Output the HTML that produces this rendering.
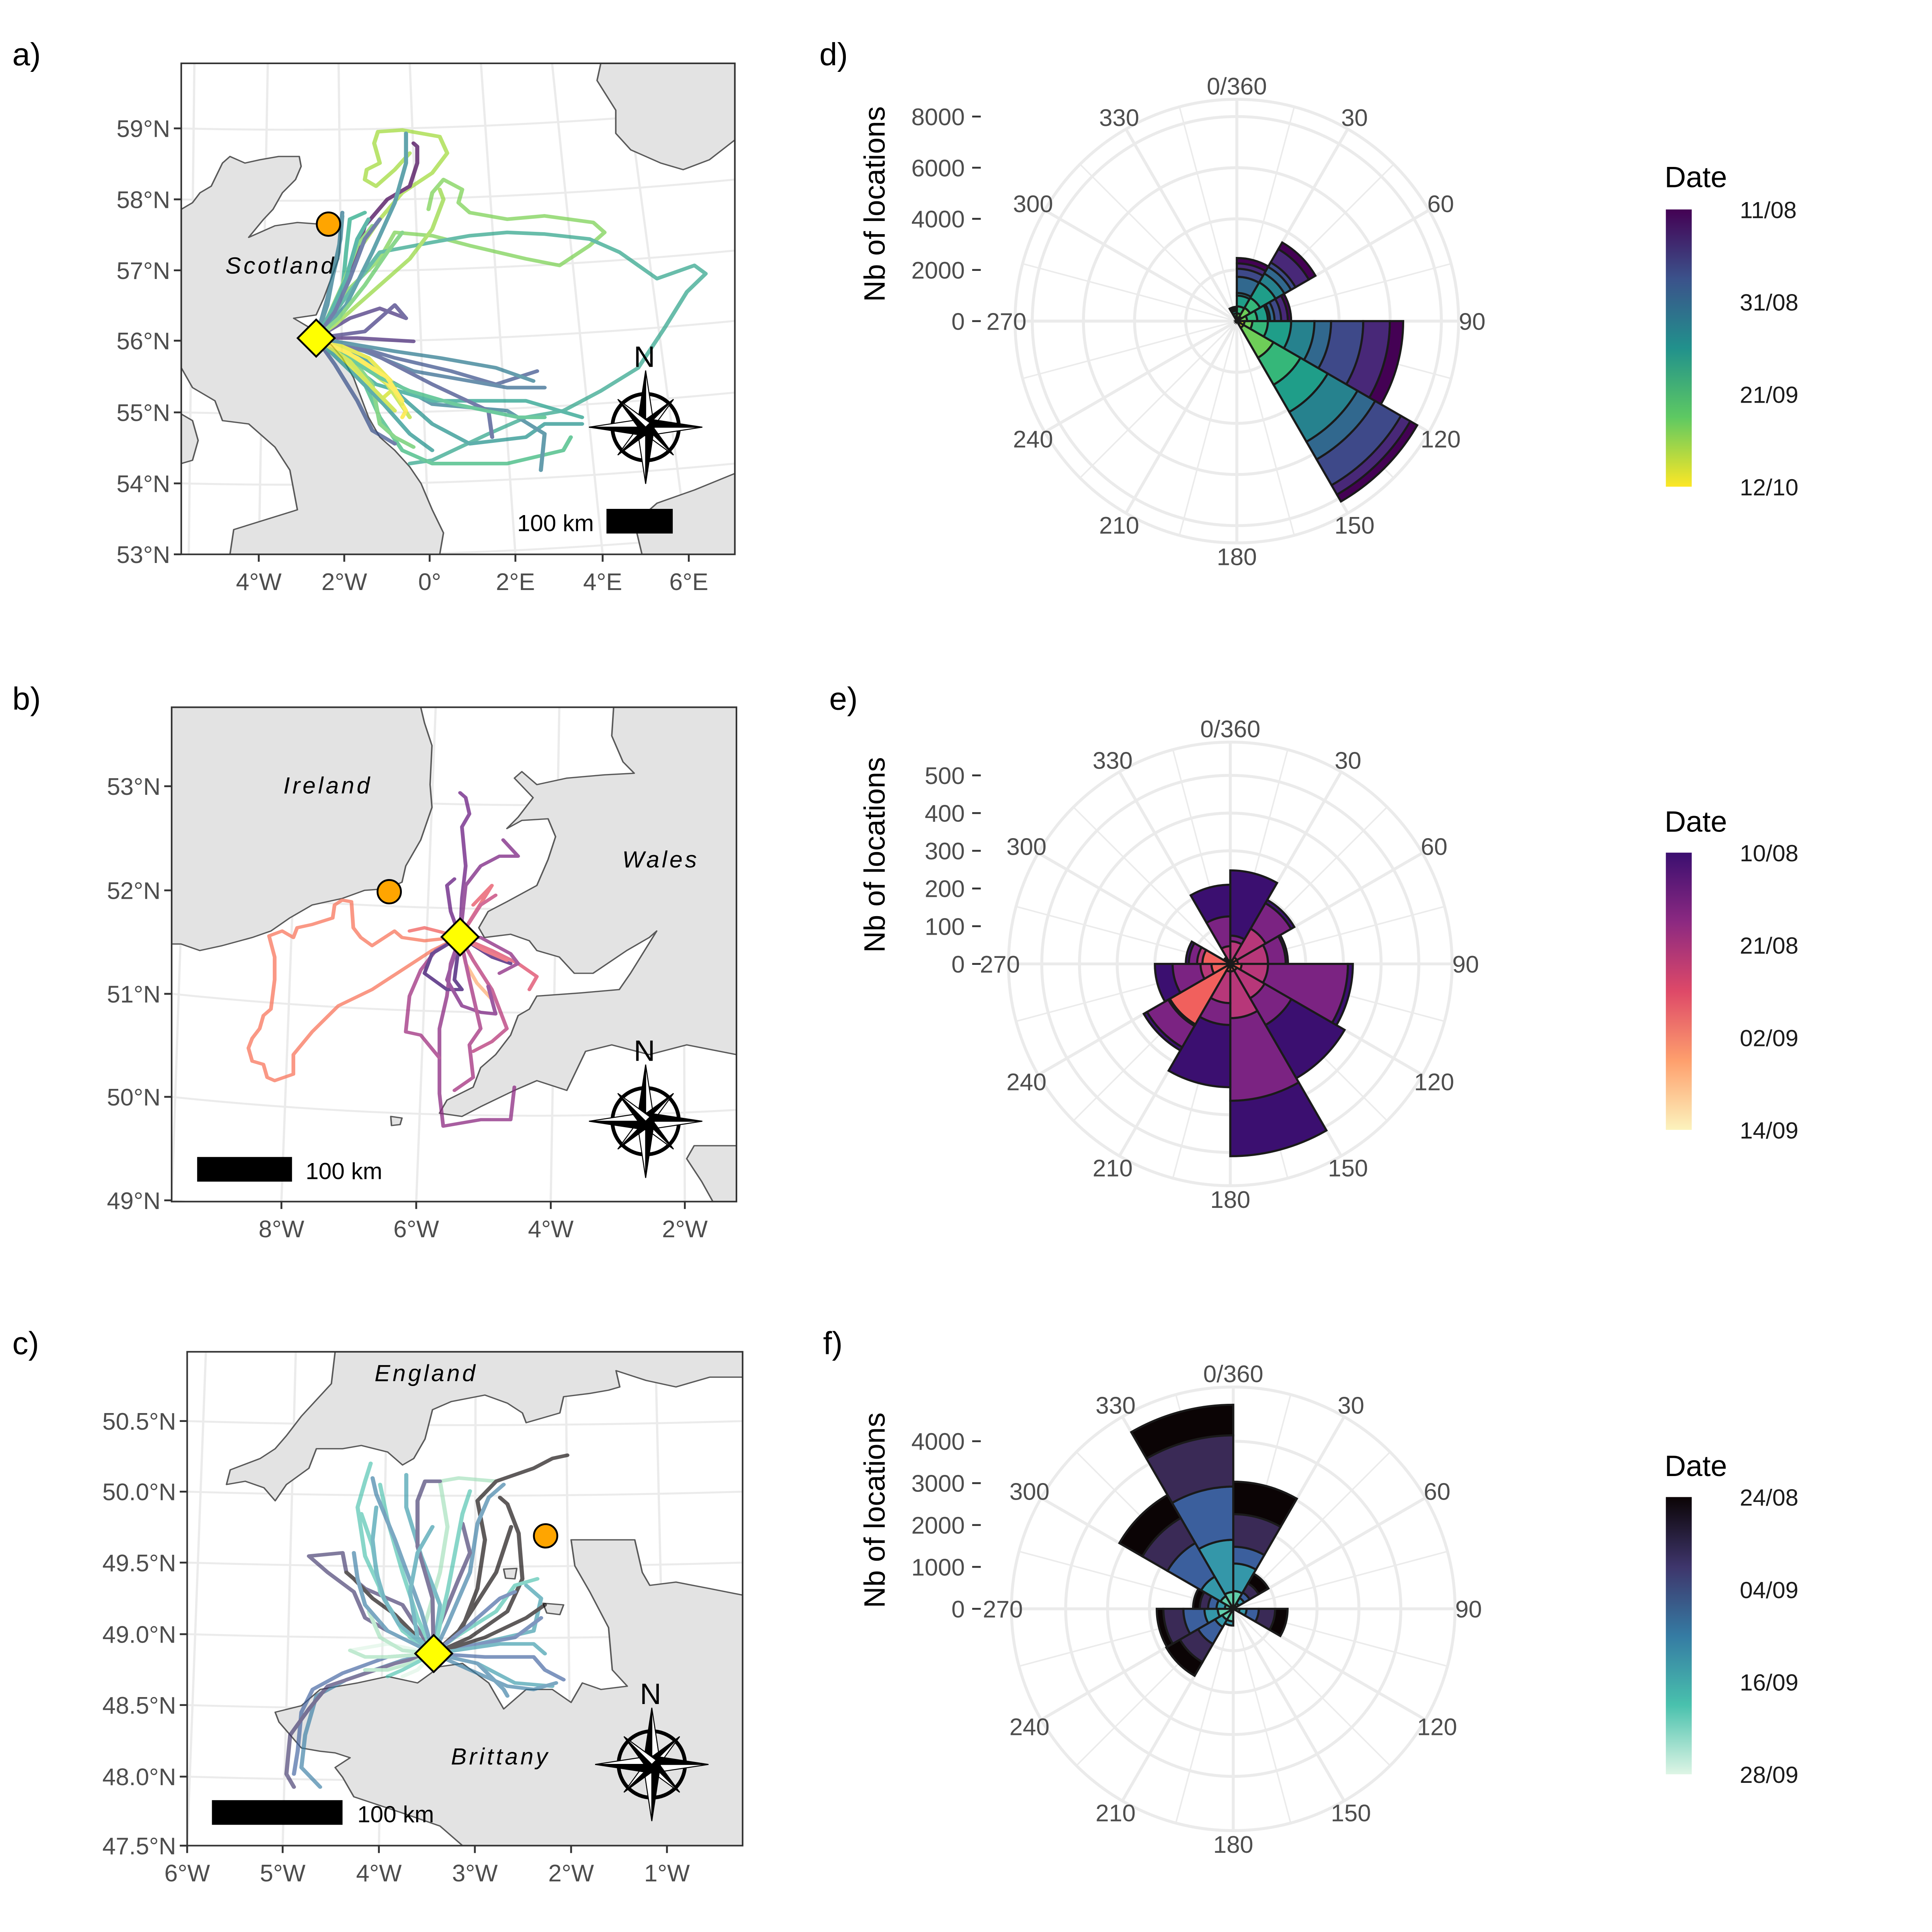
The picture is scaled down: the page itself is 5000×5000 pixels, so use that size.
<!DOCTYPE html>
<html><head><meta charset="utf-8">
<style>
html,body{margin:0;padding:0;background:#fff;}
svg{display:block;}
text{font-family:"Liberation Sans",Arial,sans-serif;}
.ax{fill:#4d4d4d;font-size:19.5px;}
.pl{fill:#000;font-size:26px;}
.reg{fill:#000;font-size:19px;font-style:italic;letter-spacing:2px;}
</style></head>
<body>
<svg id="fig" xmlns="http://www.w3.org/2000/svg" width="5000" height="5000" viewBox="0 0 1568 1568" preserveAspectRatio="none">
<defs>
<clipPath id="clipA"><rect x="30" y="28" width="1478" height="1487"/></clipPath>
<clipPath id="clipB"><rect x="25" y="12" width="1508" height="1520"/></clipPath>
<clipPath id="clipC"><rect x="25" y="22" width="1483" height="1518"/></clipPath>
<linearGradient id="gradD" x1="0" y1="0" x2="0" y2="1"><stop offset="0" stop-color="#440154"/><stop offset="0.25" stop-color="#3b528b"/><stop offset="0.5" stop-color="#21918c"/><stop offset="0.75" stop-color="#5ec962"/><stop offset="1" stop-color="#fde725"/></linearGradient>
<linearGradient id="gradE" x1="0" y1="0" x2="0" y2="1"><stop offset="0" stop-color="#3b0f70"/><stop offset="0.25" stop-color="#8c2981"/><stop offset="0.5" stop-color="#de4968"/><stop offset="0.75" stop-color="#fe9f6d"/><stop offset="1" stop-color="#fcf3bd"/></linearGradient>
<linearGradient id="gradF" x1="0" y1="0" x2="0" y2="1"><stop offset="0" stop-color="#0b0405"/><stop offset="0.25" stop-color="#3e356b"/><stop offset="0.5" stop-color="#357ba3"/><stop offset="0.75" stop-color="#49c1ad"/><stop offset="1" stop-color="#def5e5"/></linearGradient>
</defs>

<text class="pl" x="10" y="53">a)</text>
<text class="pl" x="10" y="576">b)</text>
<text class="pl" x="10" y="1099">c)</text>
<text class="pl" x="665" y="53">d)</text>
<text class="pl" x="673" y="576">e)</text>
<text class="pl" x="668" y="1099">f)</text>

<!-- MAP A -->
<g id="mapA">
 <g transform="translate(138,43.9) scale(0.304,0.268)">
  <g clip-path="url(#clipA)">
   <rect x="30" y="28" width="1478" height="1487" fill="#fff"/>
   <g id="gridA" fill="none" stroke="#ebebeb" stroke-width="6"></g>
   <g fill="#e3e3e3" stroke="#595959" stroke-width="4" stroke-linejoin="round">
    <path d="M30,470 L60,450 L80,420 L110,400 L140,330 L160,310 L200,330 L240,320 L290,310 L345,310 L350,340 L335,380 L300,420 L275,470 L250,500 L210,555 L280,520 L340,510 L400,515 L455,520 L455,560 L450,620 L430,680 L410,740 L390,790 L330,800 L375,830 L400,870 L430,880 L460,920 L490,980 L510,1040 L530,1100 L560,1160 L600,1200 L640,1250 L670,1300 L700,1380 L730,1450 L720,1515 L160,1515 L170,1440 L340,1380 L320,1260 L280,1190 L210,1120 L140,1110 L120,1050 L60,1010 L30,950 Z"/>
    <path d="M30,1090 L60,1110 L75,1170 L60,1230 L30,1240 Z"/>
    <path d="M1150,28 L1140,80 L1190,170 L1190,240 L1230,290 L1310,330 L1370,350 L1440,320 L1508,260 L1508,28 Z"/>
    <path d="M1508,1270 L1400,1320 L1300,1360 L1240,1420 L1260,1515 L1508,1515 Z"/>
   </g>
   <g id="tracksA" fill="none" stroke-width="11" stroke-linejoin="round" stroke-linecap="round" opacity="0.72"></g>
  </g>
 </g>
 <rect x="147.1" y="51.4" width="449.3" height="398.5" fill="none" stroke="#333" stroke-width="1.3"/>
 <text class="reg" x="183" y="222">Scotland</text>
 <circle cx="266.6" cy="181.9" r="9.5" fill="#ffa500" stroke="#000" stroke-width="1.5"/>
 <path d="M256.6,259.4 L271.6,274.4 L256.6,289.4 L241.6,274.4 Z" fill="#ffff00" stroke="#000" stroke-width="1.5"/>
 <rect x="492.2" y="413" width="53.8" height="20" fill="#000"/>
 <text x="482" y="431" text-anchor="end" font-size="19" fill="#000">100 km</text>
 <g transform="translate(524,346.7)" class="compassHolder"></g>
 <g id="axesA"></g>
</g>

<!-- MAP B -->
<g id="mapB">
 <g transform="translate(131.7,570.8) scale(0.304,0.264)">
  <g clip-path="url(#clipB)">
   <rect x="25" y="12" width="1508" height="1520" fill="#fff"/>
   <g id="gridB" fill="none" stroke="#ebebeb" stroke-width="6"></g>
   <g fill="#e3e3e3" stroke="#595959" stroke-width="4" stroke-linejoin="round">
    <path d="M25,12 L690,12 L700,60 L720,130 L715,250 L720,320 L690,420 L650,500 L640,550 L600,570 L540,575 L480,600 L400,620 L340,660 L290,700 L240,720 L160,745 L100,760 L50,740 L25,740 Z"/>
    <path d="M1205,12 L1200,100 L1230,180 L1260,215 L1180,220 L1080,230 L1000,250 L960,210 L940,230 L990,290 L950,350 L920,385 L960,360 L1030,355 L1050,410 L1030,480 L1000,560 L920,610 L870,640 L845,690 L860,720 L930,710 L980,730 L1000,760 L1060,780 L1100,830 L1150,830 L1240,760 L1300,720 L1320,700 L1250,830 L1220,880 L1120,890 L1000,900 L980,940 L950,960 L930,1020 L890,1080 L850,1120 L830,1180 L760,1220 L740,1260 L800,1270 L850,1240 L940,1190 L1000,1160 L1080,1190 L1130,1070 L1200,1050 L1300,1080 L1400,1050 L1533,1080 L1533,12 Z"/>
    <path d="M1533,1360 L1420,1360 L1400,1400 L1440,1470 L1470,1532 L1533,1532 Z"/>
    <path d="M610,1270 L640,1275 L635,1295 L612,1298 Z"/>
   </g>
   <g id="tracksB" fill="none" stroke-width="10" stroke-linejoin="round" stroke-linecap="round" opacity="0.75"></g>
  </g>
 </g>
 <rect x="139.3" y="574" width="458.4" height="401.2" fill="none" stroke="#333" stroke-width="1.3"/>
 <text class="reg" x="230" y="644">Ireland</text>
 <text class="reg" x="505" y="704">Wales</text>
 <circle cx="315.9" cy="723.7" r="9.5" fill="#ffa500" stroke="#000" stroke-width="1.5"/>
 <path d="M373.4,745.4 L388.4,760.4 L373.4,775.4 L358.4,760.4 Z" fill="#ffff00" stroke="#000" stroke-width="1.5"/>
 <rect x="160" y="939" width="77" height="20" fill="#000"/>
 <text x="248" y="957" font-size="19" fill="#000">100 km</text>
 <g transform="translate(524,910)" class="compassHolder"></g>
 <g id="axesB"></g>
</g>

<!-- MAP C -->
<g id="mapC">
 <g transform="translate(144.3,1091.3) scale(0.304,0.264)">
  <g clip-path="url(#clipC)">
   <rect x="25" y="22" width="1483" height="1518" fill="#fff"/>
   <g id="gridC" fill="none" stroke="#ebebeb" stroke-width="6"></g>
   <g fill="#e3e3e3" stroke="#595959" stroke-width="4" stroke-linejoin="round">
    <path d="M420,22 L410,120 L330,220 L290,280 L260,320 L220,350 L140,385 L130,430 L180,420 L230,440 L260,480 L290,430 L350,380 L370,320 L440,320 L490,310 L560,330 L600,370 L630,350 L660,290 L680,200 L730,175 L820,155 L880,180 L920,210 L930,240 L1020,210 L1030,160 L1100,150 L1150,140 L1180,130 L1170,80 L1250,110 L1330,130 L1420,100 L1508,100 L1508,22 Z"/>
    <path d="M260,1130 L330,1110 L380,1060 L480,1040 L560,1020 L640,1040 L700,990 L760,980 L830,1040 L870,1120 L930,1060 L1000,1060 L1050,1100 L1080,1040 L1130,1060 L1200,1050 L1160,1000 L1150,870 L1100,760 L1060,680 L1050,600 L1090,600 L1150,600 L1220,600 L1240,700 L1260,740 L1330,730 L1420,750 L1508,770 L1508,1540 L760,1540 L700,1480 L600,1440 L470,1390 L440,1330 L420,1300 L460,1270 L420,1255 L380,1250 L330,1240 L300,1200 L270,1160 Z"/>
    <path d="M870,690 L905,688 L900,720 L875,718 Z"/>
    <path d="M975,795 L1030,800 L1020,830 L985,825 Z"/>
   </g>
   <g id="tracksC" fill="none" stroke-width="11" stroke-linejoin="round" stroke-linecap="round" opacity="0.65"></g>
  </g>
 </g>
 <rect x="151.9" y="1097.1" width="450.8" height="400.8" fill="none" stroke="#333" stroke-width="1.3"/>
 <text class="reg" x="304" y="1121">England</text>
 <text class="reg" x="366" y="1432">Brittany</text>
 <circle cx="442.8" cy="1246.5" r="9.5" fill="#ffa500" stroke="#000" stroke-width="1.5"/>
 <path d="M352,1327 L367,1342 L352,1357 L337,1342 Z" fill="#ffff00" stroke="#000" stroke-width="1.5"/>
 <rect x="172" y="1461" width="106" height="20" fill="#000"/>
 <text x="290" y="1479" font-size="19" fill="#000">100 km</text>
 <g transform="translate(529,1432)" class="compassHolder"></g>
 <g id="axesC"></g>
</g>

<g id="roseD"></g>
<g id="roseE"></g>
<g id="roseF"></g>

<g>
 <text x="1351" y="152" font-size="24" fill="#000">Date</text>
 <rect x="1352" y="170" width="21" height="225" fill="url(#gradD)"/>
 <text x="1412" y="177" font-size="19" fill="#1a1a1a">11/08</text>
 <text x="1412" y="252" font-size="19" fill="#1a1a1a">31/08</text>
 <text x="1412" y="327" font-size="19" fill="#1a1a1a">21/09</text>
 <text x="1412" y="402" font-size="19" fill="#1a1a1a">12/10</text>
</g>
<g>
 <text x="1351" y="675" font-size="24" fill="#000">Date</text>
 <rect x="1352" y="692" width="21" height="225" fill="url(#gradE)"/>
 <text x="1412" y="699" font-size="19" fill="#1a1a1a">10/08</text>
 <text x="1412" y="774" font-size="19" fill="#1a1a1a">21/08</text>
 <text x="1412" y="849" font-size="19" fill="#1a1a1a">02/09</text>
 <text x="1412" y="924" font-size="19" fill="#1a1a1a">14/09</text>
</g>
<g>
 <text x="1351" y="1198" font-size="24" fill="#000">Date</text>
 <rect x="1352" y="1215" width="21" height="225" fill="url(#gradF)"/>
 <text x="1412" y="1222" font-size="19" fill="#1a1a1a">24/08</text>
 <text x="1412" y="1297" font-size="19" fill="#1a1a1a">04/09</text>
 <text x="1412" y="1372" font-size="19" fill="#1a1a1a">16/09</text>
 <text x="1412" y="1447" font-size="19" fill="#1a1a1a">28/09</text>
</g>
</svg>

<script>
var NS = "http://www.w3.org/2000/svg";
function mk(tag, attrs, parent){ var e=document.createElementNS(NS,tag); for(var k in attrs) e.setAttribute(k,attrs[k]); if(parent) parent.appendChild(e); return e; }

/* ---------- ROSE CHART DATA ---------- */
var dBinStart = [0, 30, 60, 90, 120, 330];
var dColors = ['#c8e020','#6ece58','#35b779','#1f9e89','#26828e','#31688e','#3e4989','#482878','#440154'];
var dCounts = [
  [100,200,277,420,103,632,315,210,210],
  [200,400,450,700,400,300,200,600,300],
  [100,300,400,414,86,175,260,260,130],
  [300,307,607,911,911,651,1258,1041,520],
  [300,1353,1222,1230,1344,798,1165,423,310],
  [100,100,100,100,50,50,30,20,10]
];
var dTicks = [0,2000,4000,6000,8000];
var eBinStart = [0,30,60,90,120,150,180,210,240,270,300,330];
var eColors = ['#feb078','#f1605d','#b73779','#7b2382','#3b0f70'];
var eCounts = [
  [0,10,50,15,173],
  [0,20,88,78,10],
  [0,20,80,47,6],
  [0,30,70,212,13],
  [0,20,85,82,163],
  [0,20,124,219,147],
  [0,20,84,58,165],
  [0,185,5,65,10],
  [0,50,29,74,47],
  [0,74,14,22,8],
  [0,5,5,5,5],
  [0,10,37,79,84]
];
var eTicks = [0,100,200,300,400,500];
var fBinStart = [0,30,90,180,210,240,270,300,330];
var fColors = ['#60ceac','#3497a9','#3b5f9d','#3a2a56','#0b0405'];
var fCounts = [
  [424,658,400,777,776],
  [150,150,150,250,270],
  [150,168,291,391,297],
  [300,100,0,0,0],
  [300,200,470,500,376],
  [370,318,503,477,158],
  [200,200,200,200,160],
  [350,535,927,692,634],
  [400,1247,1271,1223,729]
];
var fTicks = [0,1000,2000,3000,4000];
var angleLabels = ['0/360','30','60','90','120','150','180','210','240','270','300','330'];

function drawRose(gid, cx, cy, k, binStart, counts, colors, ticks, key){
  var g = document.getElementById(gid);
  var R = 180;
  function P(r,a){ var t=a*Math.PI/180; return [cx + r*Math.sin(t), cy - r*Math.cos(t)]; }
  var grid = mk('g',{fill:'none',stroke:'#ebebeb'},g);
  for(var a=0;a<360;a+=15){
    var p=P(R,a);
    var ln = mk('line',{x1:cx,y1:cy,x2:p[0],y2:p[1],'stroke-width':(a%30===0?2.4:1.2)},grid);
    
    
  }
  for(var i=1;i<ticks.length;i++){
    var c = mk('circle',{cx:cx,cy:cy,r:ticks[i]*k,'stroke-width':2.4},grid);
    
    
  }
  var oc = mk('circle',{cx:cx,cy:cy,r:R,'stroke-width':2.4},grid);
  
  
  var wg = mk('g',{stroke:'#1a1a1a','stroke-width':1.7,'stroke-linejoin':'miter'},g);
  for(var b=0;b<binStart.length;b++){
    var a0=binStart[b], a1=binStart[b]+30, cum=0;
    for(var s=0;s<counts[b].length;s++){
      var v=counts[b][s]; if(v<=0) continue;
      var r0=cum*k, r1=(cum+v)*k; cum+=v;
      var p0=P(r0,a0),p1=P(r1,a0),p2=P(r1,a1),p3=P(r0,a1);
      var d='M'+p0[0]+','+p0[1]+' L'+p1[0]+','+p1[1]+' A'+r1+','+r1+' 0 0 1 '+p2[0]+','+p2[1]+' L'+p3[0]+','+p3[1];
      if(r0>0) d+=' A'+r0+','+r0+' 0 0 0 '+p0[0]+','+p0[1];
      d+=' Z';
      var w = mk('path',{d:d,fill:colors[s]},wg);
      
      
    }
  }
  for(var j=0;j<12;j++){
    var q=P(191,j*30);
    var xoff = (j===9)? 4 : 0;
    var t = mk('text',{x:q[0]+xoff,y:q[1]+7,'text-anchor':'middle','class':'ax'},g);
    t.textContent = angleLabels[j];
    
    
  }
  for(var i=0;i<ticks.length;i++){
    var y = cy - ticks[i]*k;
    mk('line',{x1:789,y1:y,x2:796,y2:y,stroke:'#333','stroke-width':1.5},g);
    var tl = mk('text',{x:783,y:y+7,'text-anchor':'end','class':'ax'},g);
    tl.textContent = ticks[i];
    
    
  }
  var yt = cy - ticks[ticks.length-1]*k/2 - 12;
  var title = mk('text',{x:0,y:0,transform:'translate(718,'+yt+') rotate(-90)','text-anchor':'middle','font-size':24,fill:'#000'},g);
  title.textContent = 'Nb of locations';
  
  
}
drawRose('roseD',1003.8,260.6,0.02075,dBinStart,dCounts,dColors,dTicks,'d');
drawRose('roseE',998.5,782.3,0.306,eBinStart,eCounts,eColors,eTicks,'e');
drawRose('roseF',1000.9,1305.7,0.034,fBinStart,fCounts,fColors,fTicks,'f');

/* ---------- MAP AXES ---------- */
var aLatLabels = ['59°N','58°N','57°N','56°N','55°N','54°N','53°N'];
var aLatY = [104.2,161.8,219.4,276.5,334.7,392.3,449.9];
var aLonLabels = ['4°W','2°W','0°','2°E','4°E','6°E'];
var aLonX = [210,279.4,348.7,418.3,489.1,559];
var bLatLabels = ['53°N','52°N','51°N','50°N','49°N'];
var bLatY = [638.1,722.6,806.6,890.2,974.2];
var bLonLabels = ['8°W','6°W','4°W','2°W'];
var bLonX = [228.4,337.8,447,555.8];
var cLatLabels = ['50.5°N','50.0°N','49.5°N','49.0°N','48.5°N','48.0°N','47.5°N'];
var cLatY = [1153.3,1210.6,1268.2,1326.3,1383.8,1441.9,1497.9];
var cLonLabels = ['6°W','5°W','4°W','3°W','2°W','1°W'];
var cLonX = [151.9,229.4,307.5,385.4,463.5,541.3];
function drawAxes(gid, left, bottom, latL, latY, lonL, lonX, key){
  var g=document.getElementById(gid);
  for(var i=0;i<latL.length;i++){
    mk('line',{x1:left-6,y1:latY[i],x2:left,y2:latY[i],stroke:'#333','stroke-width':1.5},g);
    var t=mk('text',{x:left-9,y:latY[i]+7,'text-anchor':'end','class':'ax'},g);
    t.textContent=latL[i];
    
    
  }
  for(var i=0;i<lonL.length;i++){
    mk('line',{x1:lonX[i],y1:bottom,x2:lonX[i],y2:bottom+6,stroke:'#333','stroke-width':1.5},g);
    var t=mk('text',{x:lonX[i],y:bottom+29,'text-anchor':'middle','class':'ax'},g);
    t.textContent=lonL[i];
    
    
  }
}
drawAxes('axesA',147.1,449.9,aLatLabels,aLatY,aLonLabels,aLonX,'a');
drawAxes('axesB',139.3,975.2,bLatLabels,bLatY,bLonLabels,bLonX,'b');
drawAxes('axesC',151.9,1497.9,cLatLabels,cLatY,cLonLabels,cLonX,'c');

function grid(gid, latY0, latDy, latCtrl, lonBottom, lonTop, top, bottom, left, right){
  var g=document.getElementById(gid);
  latY0.forEach(function(y){
    mk('path',{d:'M'+left+','+y+' Q'+((left+right)/2)+','+(y+latCtrl)+' '+right+','+(y+latDy)},g);
  });
  for(var i=0;i<lonBottom.length;i++){
    mk('line',{x1:lonTop[i],y1:top,x2:lonBottom[i],y2:bottom},g);
  }
}
grid('gridA',[225,440,655,868,1085,1300,1515],-60,20,[50,237,465,693,922,1155,1385],[65,261,450,640,830,1020,1210],28,1515,30,1508);
grid('gridB',[255,575,893,1210,1528],40,90,[25,318,678,1037,1395],[70,368,730,1060,1390],12,1532,25,1533);
grid('gridC',[235,452,670,890,1108,1328],0,25,[25,280,537,793,1050,1306],[75,315,560,795,1035,1275],22,1540,25,1508);

/* ---------- TRACKS (hand traced, local coords) ---------- */
var tracksA = [
 ['#a0da39','390,860 440,760 500,600 560,500 620,420 700,360 740,300 720,250 620,230 555,235 545,270 560,330 525,350 520,380 550,400 600,350 640,300'],
 ['#7ad151','390,860 470,720 560,620 600,540 700,550 800,580 950,620 1040,640 1120,580 1160,540 1130,510 1000,490 900,500 800,480 770,450 780,410 730,380 700,420 690,470'],
 ['#2fa48a','390,860 480,720 560,600 700,570 800,550 900,540 1000,545 1120,560 1200,600 1300,680 1400,640 1430,665 1380,720 1320,830 1250,950 1150,1020 1050,1080 950,1100 850,1150 700,1230 640,1240'],
 ['#440154','390,860 450,740 490,640 520,520 580,440 640,400 660,330 660,280 650,270'],
 ['#26828e','390,860 470,760 540,600 600,450 630,330 630,240'],
 ['#3b528b','390,860 480,880 600,920 750,960 870,1000 980,960'],
 ['#31688e','390,860 520,900 650,960 800,990 900,1010 1000,1010'],
 ['#21918c','390,860 530,930 620,1040 700,1120 800,1180 950,1160 1000,1120 1100,1120'],
 ['#35b779','390,860 500,950 560,1100 620,1200 700,1240 900,1240 1050,1200 1070,1160'],
 ['#2a788e','390,860 540,960 700,1060 900,1080 1000,1150 990,1260'],
 ['#1f9e89','390,860 550,1000 700,1050 850,1050 950,1050 1100,1100'],
 ['#3e4a89','390,860 530,900 700,1000 850,1080 860,1160'],
 ['#482878','390,860 500,860 650,870'],
 ['#46327e','390,860 480,800 560,770 630,800'],
 ['#22a884','390,860 460,720 470,600 480,500 520,480'],
 ['#2c728e','390,860 420,740 450,600 460,480'],
 ['#6ece58','390,860 420,800 460,700 500,580 540,520'],
 ['#95d840','390,860 440,820 560,700 640,620 700,530 730,440 720,410'],
 ['#2a788e','390,860 420,760 440,640 455,560 460,490'],
 ['#3b528b','390,860 440,940 500,1050 540,1140 600,1180'],
 ['#5ec962','390,860 470,900 540,1000 560,1120 600,1160 650,1190'],
 ['#d0e11c','390,860 460,920 520,1000 560,1050 600,1010'],
 ['#b5de2b','390,860 500,930 580,1000 640,1100'],
 ['#fde725','390,860 470,900 550,960 600,1020 630,1080 620,1100'],
 ['#e0e31a','390,860 450,880 530,920 590,990 620,1060'],
 ['#1f9e89','390,860 430,780 470,680 500,560 530,500'],
 ['#3b528b','390,860 440,780 480,680 520,560 560,500'],
 ['#5ec962','390,860 450,800 520,700 580,600 620,540'],
 ['#443a83','390,860 520,840 600,760 630,800'],
 ['#2a788e','390,860 600,900 720,920 870,950 970,990'],
 ['#35b779','390,860 560,980 640,1020 760,1060 930,1100 1000,1100'],
 ['#21918c','390,860 500,980 570,1060 640,1150 700,1200'],
 ['#c2df23','390,860 480,930 540,1010 600,1080'],
 ['#fde725','390,860 500,920 580,980 620,1050']
];
var tracksB = [
 ['#f8765c','795,718 700,730 640,720 620,700 560,745 530,720 510,690 505,610 480,605 460,620 455,660 400,680 360,690 350,720 320,700 285,715 300,780 300,850 290,940 270,960 260,1000 240,1030 230,1060 240,1100 270,1110 280,1150 300,1160 350,1140 350,1080 400,1010 470,930 560,880 640,820 720,760 795,718'],
 ['#6a1c81','795,718 800,600 810,500 800,380 820,340 810,290 795,275'],
 ['#7b2382','795,718 810,560 850,500 900,470 950,470 910,420'],
 ['#8c2981','795,718 770,800 760,900 740,1000 740,1100 740,1200 750,1300 850,1280 930,1280 940,1180'],
 ['#9f2f7f','795,718 730,760 690,820 660,900 650,1010 690,1020 740,1090'],
 ['#b73779','795,718 830,790 880,880 920,1000 880,1040 830,1070'],
 ['#de4968','795,718 880,760 950,800 1000,840 980,880'],
 ['#feb078','795,718 810,800 840,860 880,910'],
 ['#3b0f70','795,718 780,850 800,880 760,880 700,830 720,770 795,718'],
 ['#8c2981','795,718 850,720 930,770 950,800 900,830'],
 ['#e75263','795,718 880,560 830,620'],
 ['#641a80','795,718 770,640 760,560 780,540'],
 ['#c43c75','795,718 850,620 890,590'],
 ['#f1605d','795,718 700,690 660,700'],
 ['#7b2382','795,718 760,850 800,930 850,950 890,955 870,870'],
 ['#a3307e','795,718 820,850 850,1000 820,1050 830,1150 780,1190'],
 ['#3b0f70','795,718 880,780 930,800'],
 ['#e75263','795,718 860,760 920,790']
];
var tracksC = [
 ['#3b5f9d','683,950 560,960 440,1010 360,1060 330,1130 320,1250 310,1320'],
 ['#357ba3','683,950 600,970 450,1030 370,1080 340,1200 330,1300 380,1360'],
 ['#3e356b','683,950 580,980 400,1050 350,1120 300,1200 290,1320 310,1360'],
 ['#49c1ad','683,950 620,900 560,800 500,650 480,500 500,420 515,365'],
 ['#a0dfb9','683,950 660,860 700,700 720,560 700,420 750,410 850,420'],
 ['#0b0405','683,950 760,870 800,750 820,600 800,480 850,420 950,380 1000,350 1040,340'],
 ['#0b0405','683,950 780,900 880,820 920,720 910,580 880,490 860,470'],
 ['#357ba3','683,950 720,860 780,700 800,550 830,470 870,430'],
 ['#3497a9','683,950 800,920 950,880 970,780 930,740'],
 ['#3b5f9d','683,950 820,960 950,960 980,1000 1030,1030'],
 ['#3497a9','683,950 800,980 900,1040 1000,1050'],
 ['#3e356b','683,950 600,800 500,750 450,700 440,640 350,650 400,700 470,760 500,840 560,880'],
 ['#0b0405','683,950 580,830 520,780 470,720 450,700'],
 ['#def5e5','683,950 560,920 460,940'],
 ['#49c1ad','683,950 640,840 600,700 560,540 540,430'],
 ['#3497a9','683,950 700,800 650,650 610,500 610,400'],
 ['#3e356b','683,950 680,780 640,620 640,480 660,420 700,420'],
 ['#357ba3','683,950 650,820 580,600 530,460 520,410'],
 ['#a0dfb9','683,950 620,980 560,1000 500,1000'],
 ['#49c1ad','683,950 740,900 850,820 900,740 960,720'],
 ['#3b5f9d','683,950 760,930 900,900 970,840'],
 ['#def5e5','683,950 640,1000 600,1020'],
 ['#0b0405','683,950 750,880 850,700 890,560'],
 ['#357ba3','683,950 800,980 870,1060 880,1080'],
 ['#3e356b','683,950 700,860 750,720 780,640 760,550'],
 ['#49c1ad','683,950 600,880 540,760 520,620 490,520'],
 ['#3497a9','683,950 640,900 620,760 640,640 680,560'],
 ['#a0dfb9','683,950 600,940 540,900 510,820'],
 ['#357ba3','683,950 560,880 500,800 480,720 470,640'],
 ['#3497a9','683,950 590,860 550,780 530,700 520,600 530,500'],
 ['#49c1ad','683,950 700,860 720,760 740,640 760,520 780,450'],
 ['#3b5f9d','683,950 780,860 860,780 900,760'],
 ['#0b0405','683,950 820,900 930,840 980,800'],
 ['#3497a9','683,950 860,920 950,920 980,950'],
 ['#a0dfb9','683,950 560,960 500,960 460,940'],
 ['#49c1ad','683,950 600,1000 560,1020'],
 ['#357ba3','683,950 780,1000 880,1050 950,1060 1010,1040']
];
function drawTracks(gid, list, key){
  var g=document.getElementById(gid);
  for(var i=0;i<list.length;i++){
    var p=mk('polyline',{points:list[i][1],stroke:list[i][0]},g);
    
    
  }
}
drawTracks('tracksA',tracksA,'a');
drawTracks('tracksB',tracksB,'b');
drawTracks('tracksC',tracksC,'c');

function drawCompass(g){
  mk('circle',{cx:0,cy:0,r:27,fill:'none',stroke:'#000','stroke-width':3},g);
  for(var a=0;a<360;a+=45){
    var L = (a%90===0)?46:32, w=(a%90===0)?7:5;
    var t=a*Math.PI/180;
    var tip=[L*Math.sin(t),-L*Math.cos(t)];
    var sl=[w*Math.sin(t-Math.PI/2),-w*Math.cos(t-Math.PI/2)];
    var sr=[w*Math.sin(t+Math.PI/2),-w*Math.cos(t+Math.PI/2)];
    mk('path',{d:'M0,0 L'+tip[0]+','+tip[1]+' L'+sl[0]+','+sl[1]+' Z',fill:'#000',stroke:'#000','stroke-width':0.8},g);
    mk('path',{d:'M0,0 L'+tip[0]+','+tip[1]+' L'+sr[0]+','+sr[1]+' Z',fill:'#fff',stroke:'#000','stroke-width':0.8},g);
  }
  var n=mk('text',{x:-1,y:-49,'text-anchor':'middle','font-size':24,fill:'#000'},g);
  n.textContent='N';
  
  
}
var holders=document.querySelectorAll('.compassHolder');
for(var i=0;i<holders.length;i++) drawCompass(holders[i]);
</script>
</body></html>
